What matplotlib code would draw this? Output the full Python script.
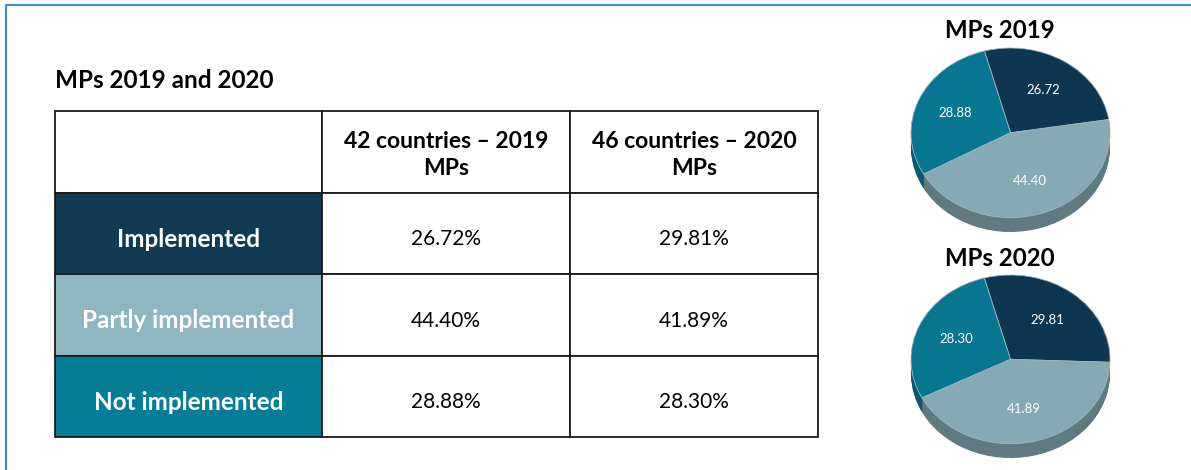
import numpy as np
import matplotlib
matplotlib.use("Agg")
from matplotlib import pyplot as plt
from matplotlib.transforms import Affine2D

plt.rcParams['font.family'] = ['Lato', 'DejaVu Sans']

# Datos
categorias = ["Implemented", "Partly implemented", "Not implemented"]
columnas = ["42 countries \u2013 2019\nMPs", "46 countries \u2013 2020\nMPs"]
mps_2019 = [26.72, 44.40, 28.88]
mps_2020 = [29.81, 41.89, 28.30]

colores = ["#133a53", "#8fb6c0", "#067d97"]
colores_pie = ["#0f3651", "#86a9b3", "#077791"]
colores_lado = ["#0a2638", "#5f7a81", "#055a6d"]

W, H = 1191, 470
fig = plt.figure(figsize=(W / 100, H / 100), dpi=100)
ax = fig.add_axes([0, 0, 1, 1])
ax.set_xlim(0, W)
ax.set_ylim(H, 0)
ax.axis("off")

# marco azul
ax.plot([6, 6, W], [H, 5, 5], color="#3d8fcd", lw=1.5)

ax.text(55, 80, "MPs 2019 and 2020", fontsize=17.5, fontweight="bold", va="center", ha="left")

# Tabla
celdas = [["", columnas[0], columnas[1]]]
for i, c in enumerate(categorias):
    celdas.append([c, f"{mps_2019[i]:.2f}%", f"{mps_2020[i]:.2f}%"])

x0, x1, y0, y1 = 55, 818, 111, 437
tabla = ax.table(cellText=celdas, colWidths=[267, 248, 248], cellLoc="center",
                 bbox=[x0 / W, 1 - y1 / H, (x1 - x0) / W, (y1 - y0) / H])
tabla.auto_set_font_size(False)
for (r, c), cell in tabla.get_celld().items():
    cell.set_edgecolor("#1a1a1a")
    cell.set_linewidth(1.3)
    txt = cell.get_text()
    # el texto de la celda va en pixeles: bajarlo un poco
    txt.set_transform(Affine2D().translate(0, -3 if r == 0 else -4))
    if r == 0:
        txt.set_fontsize(16.5)
        txt.set_fontweight("bold")
        txt.set_linespacing(1.35)
    elif c == 0:
        cell.set_facecolor(colores[r - 1])
        txt.set_color("white")
        txt.set_fontsize(17.5)
        txt.set_fontweight("bold")
        txt.set_va("center_baseline")
    else:
        txt.set_fontsize(15)
        txt.set_va("center_baseline")


def pie3d(rect, valores, titulo, inicio, ty):
    # orden antihorario: implementado, no implementado, parcial
    orden = [0, 2, 1]
    vals = [valores[i] for i in orden]
    pax = fig.add_axes(rect)
    prof = 0.17
    for d in np.linspace(prof, 0.005, 12):
        pax.pie(vals, colors=[colores_lado[i] for i in orden], startangle=inicio,
                center=(0, -d), wedgeprops=dict(linewidth=0))
    pax.pie(vals, colors=[colores_pie[i] for i in orden], startangle=inicio,
            autopct="%.2f", pctdistance=0.6,
            textprops=dict(color="white", fontsize=9.5),
            wedgeprops=dict(linewidth=0.6, edgecolor="#9fb8c0"))
    pax.set_aspect("auto")
    pax.set_xlim(-1, 1)
    pax.set_ylim(-1 - prof, 1)
    ax.text(1000, ty, titulo, fontsize=17.3, fontweight="bold", ha="center", va="center")


pie3d([911 / W, 1 - 232 / H, 199 / W, 184 / H], mps_2019, "MPs 2019", 9, 30)
pie3d([911 / W, 1 - 458 / H, 199 / W, 183 / H], mps_2020, "MPs 2020", -2, 258)

fig.savefig("out.png", dpi=100)
